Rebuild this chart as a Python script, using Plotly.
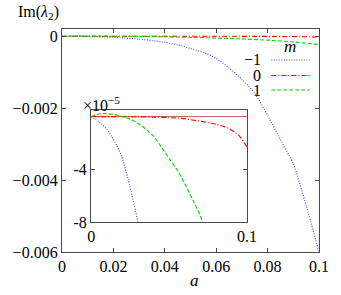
import plotly.graph_objects as go

# ---- data (values in units of 1e-5) ----
a_m1 = [0, 0.005, 0.01, 0.0133, 0.0165, 0.0196, 0.0238, 0.03, 0.035, 0.04, 0.045, 0.05,
        0.055, 0.06, 0.065, 0.07, 0.075, 0.08, 0.085, 0.09, 0.095, 0.1]
im_m1 = [0, -0.39, -0.95, -1.53, -2.2, -3.04, -4.8, -8.0, -12, -17, -24, -34,
         -45, -62, -88, -120, -159, -220, -288, -355, -470, -600]

a_0 = [0, 0.01, 0.02, 0.03, 0.04, 0.05, 0.06, 0.0675, 0.075, 0.08, 0.0883, 0.0946, 0.1]
im_0 = [0, 0, -0.01, -0.02, -0.04, -0.08, -0.16, -0.31, -0.45, -0.58, -0.9, -1.4, -2.3]

a_p1 = [0, 0.005, 0.01, 0.015, 0.02, 0.025, 0.03, 0.035, 0.0404, 0.045, 0.0508, 0.056,
        0.061, 0.066, 0.0717, 0.08, 0.09, 0.1]
im_p1 = [0, 0.2, 0.22, 0.15, 0, -0.2, -0.51, -0.95, -1.53, -2.3, -3.3, -4.2,
         -5.3, -6.5, -8.0, -11, -16, -23]

scale = 1e-5
main_xticks = [0, 0.02, 0.04, 0.06, 0.08, 0.1]
main_xtext = ["0", "0.02", "0.04", "0.06", "0.08", "0.1"]
main_yticks = [0, -0.002, -0.004, -0.006]
main_ytext = ["0", "\u22120.002", "\u22120.004", "\u22120.006"]
inset_xticks = [0, 0.1]
inset_xtext = ["0", "0.1"]
inset_yticks = [-8, -4]
inset_ytext = ["-8", "-4"]
legend_labels = ["\u22121", "0", "1"]

series = [
    (a_m1, im_m1, "#4a4aff", "1px,1.5px"),
    (a_0, im_0, "#ff0000", "5px,2px,1px,2px"),
    (a_p1, im_p1, "#00d400", "4px,2px"),
]

# ---- layout geometry (pixels) ----
W, H = 341, 295
L, R, T, B = 62, 326, 29, 252


def px(x):
    return (x - L) / (R - L)


def py(y):
    return (B - y) / (B - T)


FONT = "Liberation Serif"
fig = go.Figure()

for xs, ys, col, dash in series:
    fig.add_trace(go.Scatter(x=xs, y=[v * scale for v in ys], mode="lines",
                             line=dict(color=col, width=1.1, dash=dash, shape="spline", smoothing=0.6),
                             xaxis="x", yaxis="y", showlegend=False, hoverinfo="skip"))

# inset zero line
fig.add_trace(go.Scatter(x=[0, 0.1], y=[0, 0], mode="lines",
                         line=dict(color="#c05a5a", width=1),
                         xaxis="x2", yaxis="y2", showlegend=False, hoverinfo="skip"))
for xs, ys, col, dash in series:
    fig.add_trace(go.Scatter(x=xs, y=ys, mode="lines",
                             line=dict(color=col, width=1.1, dash=dash, shape="spline", smoothing=0.6),
                             xaxis="x2", yaxis="y2", showlegend=False, hoverinfo="skip"))

axcol = "#4a4a4a"
common = dict(showline=True, linecolor=axcol, linewidth=1.3, mirror="ticks", ticks="inside",
              ticklen=4, tickcolor=axcol, showgrid=False, zeroline=False,
              tickfont=dict(family=FONT, size=16, color="black"))

ins_x0, ins_x1, ins_y0, ins_y1 = 92, 252, 110, 222

fig.update_layout(
    width=W, height=H, margin=dict(l=L, r=W - R, t=T, b=H - B),
    paper_bgcolor="white", plot_bgcolor="white",
    font=dict(family=FONT, size=16, color="black"),
    xaxis=dict(range=[0, 0.1], tickvals=main_xticks, ticktext=main_xtext, **common),
    yaxis=dict(range=[-0.006, 0.0002], tickvals=main_yticks, ticktext=main_ytext, **common),
    xaxis2=dict(range=[0, 0.1], tickvals=inset_xticks, ticktext=inset_xtext, anchor="y2",
                domain=[px(ins_x0), px(ins_x1)], **common),
    yaxis2=dict(range=[-8, 0.5], tickvals=inset_yticks, ticktext=inset_ytext, anchor="x2",
                domain=[py(ins_y1), py(ins_y0)], **common),
    showlegend=False,
)

# white background for the inset
fig.add_shape(type="rect", xref="x2 domain", yref="y2 domain", x0=0, x1=1, y0=0, y1=1,
              fillcolor="white", line=dict(width=0), layer="below")

# legend drawn by hand (gnuplot style: text left of sample)
leg_y = [60, 75.5, 90]
for (xs, ys, col, dash), lab, yy in zip(series, legend_labels, leg_y):
    fig.add_shape(type="line", xref="paper", yref="paper", x0=px(277), x1=px(317),
                  y0=py(yy), y1=py(yy), line=dict(color=col, width=1.2, dash=dash),
                  layer="above")
    fig.add_annotation(xref="paper", yref="paper", x=px(268), y=py(yy), text=lab,
                       showarrow=False, xanchor="right", yanchor="middle",
                       font=dict(family=FONT, size=16, color="black"))
fig.add_annotation(xref="paper", yref="paper", x=px(296), y=py(46), text="<i>m</i>",
                   showarrow=False, xanchor="center", yanchor="middle",
                   font=dict(family=FONT, size=17, color="black"))

fig.add_annotation(xref="paper", yref="paper", x=px(38), y=py(12),
                   text="Im(<i>\u03bb</i><sub>2</sub>)", showarrow=False,
                   xanchor="center", yanchor="middle",
                   font=dict(family=FONT, size=16, color="black"))
fig.add_annotation(xref="paper", yref="paper", x=px(198), y=py(280), text="<i>a</i>",
                   showarrow=False, xanchor="center", yanchor="middle",
                   font=dict(family=FONT, size=17, color="black"))
fig.add_annotation(xref="paper", yref="paper", x=px(82), y=py(104), text="\u00d710<sup>\u22125</sup>",
                   showarrow=False, xanchor="left", yanchor="middle",
                   font=dict(family=FONT, size=16, color="black"))

fig.write_html("out.html", config={"displayModeBar": False},
               post_script="document.body.style.margin='0px';"
                           "document.body.style.overflow='hidden';"
                           "document.documentElement.style.overflow='hidden';")
